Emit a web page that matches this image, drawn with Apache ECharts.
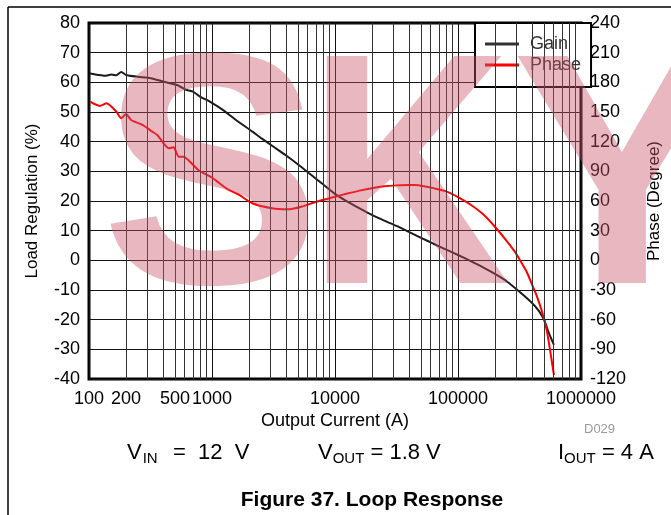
<!DOCTYPE html>
<html><head><meta charset="utf-8">
<script src="https://cdn.jsdelivr.net/npm/echarts@6/dist/echarts.min.js"></script>
<style>html,body{margin:0;padding:0;background:#fff}#c{width:671px;height:515px}</style>
</head><body><div id="c"></div>
<script>
// ---- data ----
const gainCurrent = [102,119,134,152,167,183,200,248,318,405,519,624,705,798,960,1225,1567,2128,2512,3162,3981,5012,6310,7943,10000,12589,15849,19953,25119,31623,39811,50119,63096,79433,100000,125893,158489,199526,251189,316228,398107,457088,501187,549541,602560];
const gainValues = [63.0,62.5,62.2,62.6,62.4,63.5,62.5,61.9,61.4,60.2,59.1,57.4,56.8,55.2,53.5,50.7,47.3,43.4,41.2,38.3,35.4,32.3,29.0,25.7,22.4,19.8,17.5,15.3,13.4,11.6,9.6,7.6,5.6,3.7,1.8,-0.2,-2.3,-4.6,-7.2,-10.6,-14.3,-17.2,-20.1,-24.6,-28.5];
const phaseCurrent = [102,122,139,167,183,200,220,272,327,359,445,488,535,586,773,1019,1303,1663,2128,3076,4055,5346,7047,10000,12589,15849,19953,25119,31623,39811,44463,50119,63096,79433,100000,125893,158489,199526,251189,288403,316228,363078,398107,436516,487529,524807,549541,575440,602560];
const phaseValues = [160.4,156.1,158.8,150.3,143.6,148.0,141.9,136.9,130.1,126.7,113.3,114.3,104.8,104.8,91.4,82.9,72.8,66.1,57.7,52.6,51.6,54.2,59.3,64.3,67.5,70.5,73,74.8,75.8,76.3,76.2,75.5,73,70,64,56.5,47,34,19,9,1,-12,-24,-36,-54,-70,-84,-100,-116];
const xTickLabels = [100,200,500,1000,10000,100000,1000000];
const xMinorGrid = [200,300,400,500,600,700,800,900,2000,3000,4000,5000,6000,7000,8000,9000,20000,30000,40000,50000,60000,70000,80000,90000,200000,300000,400000,500000,600000,700000,800000,900000];
const seriesNames = ['Gain','Phase'];

const FONT = '"Liberation Sans", Arial, Helvetica, sans-serif';
const chart = echarts.init(document.getElementById('c'));

function zip(xs, ys){ return xs.map((x,i)=>[x, ys[i]]); }

const richSub = {
  m: { fontSize: 22, fontFamily: FONT, fill: '#000', lineHeight: 26 },
  s: { fontSize: 15, fontFamily: FONT, fill: '#000', lineHeight: 12, verticalAlign: 'bottom' },
  t: { fontSize: 15, fontFamily: FONT, fill: '#000', lineHeight: 12, verticalAlign: 'bottom', padding: [0, 3, 0, 1] }
};

const wmStyle = (ch) => ({ text: ch, fontSize: 330, fontWeight: 'bold', fontFamily: FONT, fill: 'rgba(200,84,105,0.42)', verticalAlign: 'middle' });

chart.setOption({
  animation: false,
  backgroundColor: '#fff',
  textStyle: { fontFamily: FONT },
  grid: { left: 89, right: 82, top: 23, bottom: 136, show: true, borderColor: '#000', borderWidth: 3, backgroundColor: 'transparent' },
  legend: {
    data: seriesNames, orient: 'vertical', left: 475, top: 23,
    padding: [12, 10, 13, 10], itemGap: 3, itemWidth: 34, itemHeight: 3, icon: 'rect',
    backgroundColor: '#fff', borderColor: '#000', borderWidth: 2, borderRadius: 0,
    textStyle: { fontSize: 18, color: '#333', fontFamily: FONT, padding: [0,0,0,6] }
  },
  xAxis: [
    { type: 'log', logBase: 10, min: 100, max: 1000000, gridIndex: 0,
      name: 'Output Current (A)', nameLocation: 'middle', nameGap: 33,
      nameTextStyle: { fontSize: 18, color: '#000', fontFamily: FONT },
      axisLine: { show: false }, axisTick: { show: false }, axisLabel: { show: false },
      splitLine: { show: true, lineStyle: { color: '#111', width: 1 } } },
    { type: 'value', min: 2, max: 6, position: 'bottom', gridIndex: 0,
      axisLine: { show: false }, axisTick: { show: false }, splitLine: { show: false },
      axisLabel: { customValues: xTickLabels.map(v => Math.log10(v)), fontSize: 18, color: '#000', margin: 11, fontFamily: FONT,
        formatter: v => String(Math.round(Math.pow(10, v))) } }
  ],
  yAxis: [
    { type: 'value', min: -40, max: 80, interval: 10,
      name: 'Load Regulation (%)', nameLocation: 'middle', nameGap: 48, nameRotate: 90,
      nameTextStyle: { fontSize: 17, color: '#000', fontFamily: FONT },
      axisLine: { show: false }, axisTick: { show: false },
      axisLabel: { fontSize: 18, color: '#000', margin: 9, fontFamily: FONT },
      splitLine: { show: true, lineStyle: { color: '#111', width: 1 } } },
    { type: 'value', min: -120, max: 240, interval: 30, position: 'right',
      name: 'Phase (Degree)', nameLocation: 'middle', nameGap: 65, nameRotate: 90,
      nameTextStyle: { fontSize: 17, color: '#000', fontFamily: FONT },
      axisLine: { show: false }, axisTick: { show: false },
      axisLabel: { fontSize: 18, color: '#000', margin: 9, fontFamily: FONT },
      splitLine: { show: false } }
  ],
  series: [
    { name: 'grid', type: 'line', xAxisIndex: 0, yAxisIndex: 0, data: [], silent: true, z: 1,
      markLine: { silent: true, symbol: 'none', animation: false, label: { show: false },
        lineStyle: { color: '#333', width: 1, type: 'solid' },
        data: xMinorGrid.map(v => ({ xAxis: v })) } },
    { name: 'Gain', type: 'line', xAxisIndex: 0, yAxisIndex: 0, data: zip(gainCurrent, gainValues),
      showSymbol: false, symbol: 'none', smooth: 0.2, lineStyle: { color: '#1a1a1a', width: 2 }, itemStyle: { color: '#333' }, z: 3 },
    { name: 'Phase', type: 'line', xAxisIndex: 0, yAxisIndex: 1, data: zip(phaseCurrent, phaseValues),
      showSymbol: false, symbol: 'none', smooth: 0.2, lineStyle: { color: '#ff0000', width: 2 }, itemStyle: { color: '#ff0000' }, z: 3 }
  ],
  graphic: [
    { type: 'line', shape: { x1: 8, y1: 7, x2: 671, y2: 7 }, style: { stroke: '#000', lineWidth: 1.5 }, silent: true },
    { type: 'line', shape: { x1: 8, y1: 7, x2: 8, y2: 515 }, style: { stroke: '#000', lineWidth: 1.5 }, silent: true },
    { type: 'text', x: 584, y: 423, silent: true, style: { text: 'D029', fontSize: 13, fontFamily: FONT, fill: '#999' } },
    { type: 'text', x: 127, y: 440, silent: true, style: { text: '{m|V}{t|IN}{m|  =  12  V}', rich: richSub } },
    { type: 'text', x: 318, y: 440, silent: true, style: { text: '{m|V}{s|OUT}{m| = 1.8 V}', rich: richSub } },
    { type: 'text', x: 558, y: 440, silent: true, style: { text: '{m|I}{s|OUT}{m| = 4 A}', rich: richSub } },
    { type: 'text', x: 372, y: 500, silent: true, style: { text: 'Figure 37. Loop Response', fontSize: 21, fontWeight: 'bold', fontFamily: FONT, fill: '#000', align: 'center', verticalAlign: 'middle' } },
    { type: 'text', x: 101, y: 192, zlevel: 1, z: 100, silent: true, style: wmStyle('S') },
    { type: 'text', x: 308, y: 192, scaleX: 0.85, zlevel: 1, z: 100, silent: true, style: wmStyle('K') },
    { type: 'text', x: 512, y: 192, zlevel: 1, z: 100, silent: true, style: wmStyle('Y') }
  ]
});
</script>
</body></html>
